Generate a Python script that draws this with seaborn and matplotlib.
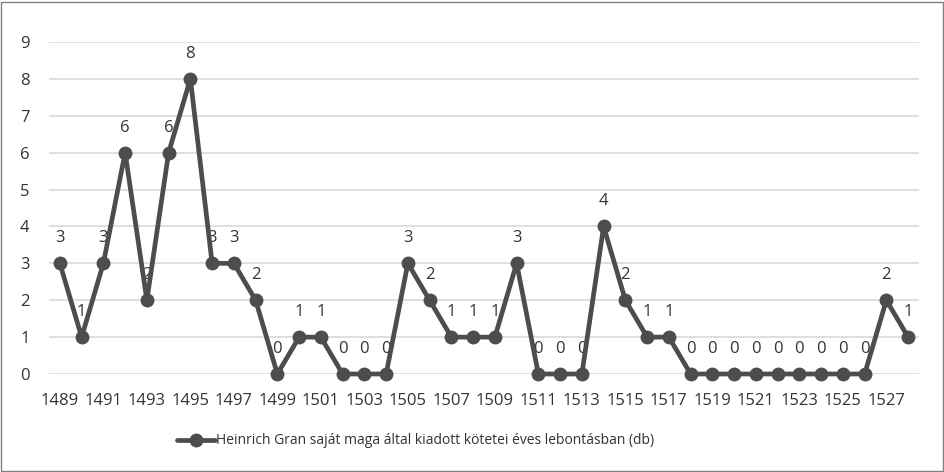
import matplotlib
matplotlib.use("Agg")
import matplotlib.pyplot as plt
import seaborn as sns
import pandas as pd
from matplotlib.patches import Rectangle

years = list(range(1489, 1529))
counts = [3, 1, 3, 6, 2, 6, 8, 3, 3, 2,
          0, 1, 1, 0, 0, 0, 3, 2, 1, 1,
          1, 3, 0, 0, 0, 4, 2, 1, 1, 0,
          0, 0, 0, 0, 0, 0, 0, 0, 2, 1]
series_name = "Heinrich Gran saját maga által kiadott kötetei éves lebontásban (db)"

df = pd.DataFrame({"year": years, "count": counts})
df["pos"] = range(len(df))

sns.set_style("white")
plt.rcParams['font.family'] = ['Open Sans', 'DejaVu Sans']

fig = plt.figure(figsize=(9.45, 4.72), dpi=100)
ax = fig.add_axes([49/945, (472-374)/472, (919-49)/945, (374-42)/472])

line_col = "#4d4d4d"
txt_col = "#333333"
sns.lineplot(data=df, x="pos", y="count", ax=ax, color=line_col, linewidth=3.4,
             marker="o", markersize=10, markeredgewidth=0, label=series_name,
             clip_on=False, zorder=3)

for p, v in zip(df["pos"], df["count"]):
    ax.annotate(str(v), (p, v), xytext=(0, 18), textcoords="offset points",
                ha="center", va="center", fontsize=12, color=txt_col, zorder=2)

ax.set_xlim(-0.5, len(years) - 0.5)
ax.set_ylim(0, 9)
ax.set_yticks(range(0, 10))
ax.set_xticks(df["pos"][::2])
ax.set_xticklabels([str(y) for y in years[::2]])
ax.tick_params(axis="both", length=0, labelsize=12, colors=txt_col)
ax.tick_params(axis="y", pad=14)
ax.tick_params(axis="x", pad=14)
ax.grid(axis="y", color="#d9d9d9", linewidth=1.2)
ax.set_axisbelow(True)
for s in ax.spines.values():
    s.set_visible(False)
ax.set_xlabel("")
ax.set_ylabel("")

leg = ax.legend(loc="center", frameon=False, fontsize=10, handlelength=2.7,
                handletextpad=0.1)
leg.set_bbox_to_anchor((416/945, 1 - 441/472), transform=fig.transFigure)
for t in leg.get_texts():
    t.set_color(txt_col)

fig.patches.append(Rectangle((1/945, 1/472), 942/945, 469/472, transform=fig.transFigure,
                             fill=False, edgecolor="#808080", linewidth=1))

fig.savefig("out.png", dpi=100)
